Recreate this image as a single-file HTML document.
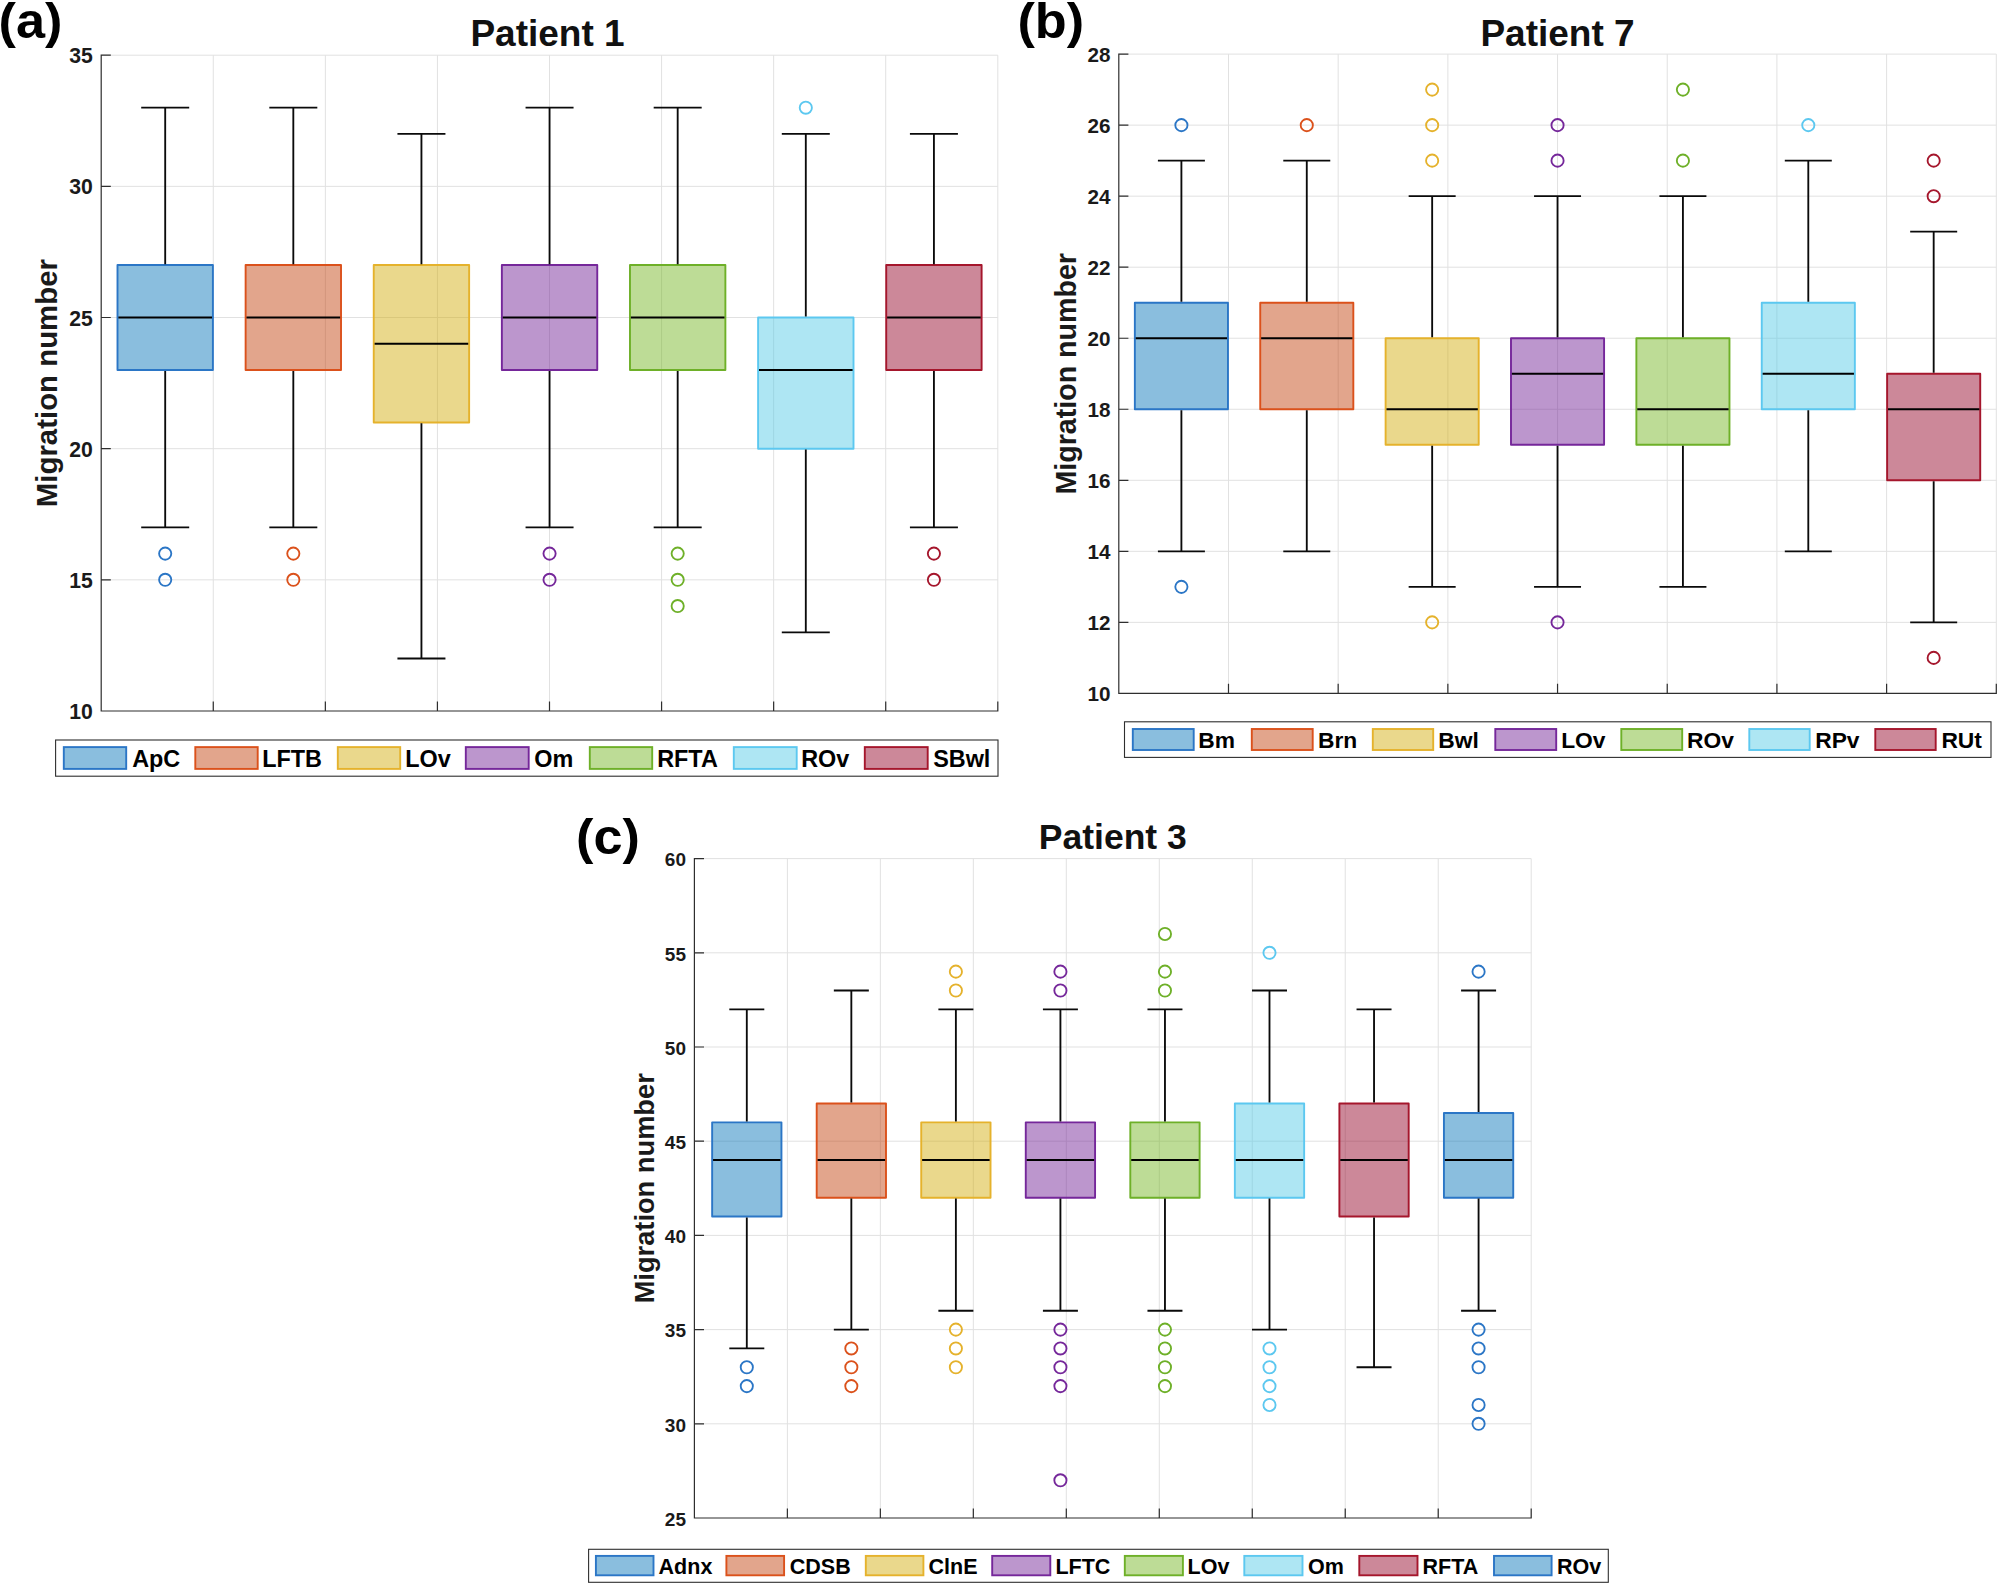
<!DOCTYPE html>
<html lang="en">
<head>
<meta charset="utf-8">
<title>Migration number boxplots</title>
<style>
html,body{margin:0;padding:0;background:#fff;}
body{width:2000px;height:1586px;overflow:hidden;}
svg{display:block;font-family:'Liberation Sans', Arial, Helvetica, sans-serif;font-weight:bold;}
</style>
</head>
<body>
<svg width="2000" height="1586" viewBox="0 0 2000 1586">
<rect width="2000" height="1586" fill="#ffffff"/>
<g id="panel-a">
<path d="M213.27 55.2V711M325.35 55.2V711M437.42 55.2V711M549.5 55.2V711M661.58 55.2V711M773.65 55.2V711M885.72 55.2V711M997.8 55.2V711M101.2 579.84H997.8M101.2 448.68H997.8M101.2 317.52H997.8M101.2 186.36H997.8M101.2 55.2H997.8" stroke="#e1e1e1" stroke-width="1" fill="none"/>
<rect x="117.5" y="265.06" width="95.4" height="104.93" fill="#0675b9" fill-opacity="0.47" stroke="#2b76c6" stroke-width="1.9" stroke-linejoin="round"/>
<path d="M165.2 107.66V264.16M165.2 370.88V527.38M141.2 107.66H189.2M141.2 527.38H189.2" stroke="#0a0a0a" stroke-width="1.85" fill="none"/>
<path d="M118.4 317.52H212" stroke="#000" stroke-width="2" fill="none"/>
<circle cx="165.2" cy="553.61" r="6.1" fill="none" stroke="#2b76c6" stroke-width="1.85"/>
<circle cx="165.2" cy="579.84" r="6.1" fill="none" stroke="#2b76c6" stroke-width="1.85"/>
<rect x="245.62" y="265.06" width="95.4" height="104.93" fill="#c1400a" fill-opacity="0.47" stroke="#db511b" stroke-width="1.9" stroke-linejoin="round"/>
<path d="M293.32 107.66V264.16M293.32 370.88V527.38M269.32 107.66H317.32M269.32 527.38H317.32" stroke="#0a0a0a" stroke-width="1.85" fill="none"/>
<path d="M246.52 317.52H340.12" stroke="#000" stroke-width="2" fill="none"/>
<circle cx="293.32" cy="553.61" r="6.1" fill="none" stroke="#db511b" stroke-width="1.85"/>
<circle cx="293.32" cy="579.84" r="6.1" fill="none" stroke="#db511b" stroke-width="1.85"/>
<rect x="373.74" y="265.06" width="95.4" height="157.39" fill="#d2ac0a" fill-opacity="0.47" stroke="#e5b22c" stroke-width="1.9" stroke-linejoin="round"/>
<path d="M421.44 133.9V264.16M421.44 423.35V658.54M397.44 133.9H445.44M397.44 658.54H445.44" stroke="#0a0a0a" stroke-width="1.85" fill="none"/>
<path d="M374.64 343.75H468.24" stroke="#000" stroke-width="2" fill="none"/>
<rect x="501.86" y="265.06" width="95.4" height="104.93" fill="#702095" fill-opacity="0.47" stroke="#75279a" stroke-width="1.9" stroke-linejoin="round"/>
<path d="M549.56 107.66V264.16M549.56 370.88V527.38M525.56 107.66H573.56M525.56 527.38H573.56" stroke="#0a0a0a" stroke-width="1.85" fill="none"/>
<path d="M502.76 317.52H596.36" stroke="#000" stroke-width="2" fill="none"/>
<circle cx="549.56" cy="553.61" r="6.1" fill="none" stroke="#75279a" stroke-width="1.85"/>
<circle cx="549.56" cy="579.84" r="6.1" fill="none" stroke="#75279a" stroke-width="1.85"/>
<rect x="629.98" y="265.06" width="95.4" height="104.93" fill="#73b520" fill-opacity="0.47" stroke="#6eb028" stroke-width="1.9" stroke-linejoin="round"/>
<path d="M677.68 107.66V264.16M677.68 370.88V527.38M653.68 107.66H701.68M653.68 527.38H701.68" stroke="#0a0a0a" stroke-width="1.85" fill="none"/>
<path d="M630.88 317.52H724.48" stroke="#000" stroke-width="2" fill="none"/>
<circle cx="677.68" cy="553.61" r="6.1" fill="none" stroke="#6eb028" stroke-width="1.85"/>
<circle cx="677.68" cy="579.84" r="6.1" fill="none" stroke="#6eb028" stroke-width="1.85"/>
<circle cx="677.68" cy="606.07" r="6.1" fill="none" stroke="#6eb028" stroke-width="1.85"/>
<rect x="758.1" y="317.52" width="95.4" height="131.16" fill="#53cae5" fill-opacity="0.47" stroke="#5cc8f0" stroke-width="1.9" stroke-linejoin="round"/>
<path d="M805.8 133.9V316.62M805.8 449.58V632.3M781.8 133.9H829.8M781.8 632.3H829.8" stroke="#0a0a0a" stroke-width="1.85" fill="none"/>
<path d="M759 369.98H852.6" stroke="#000" stroke-width="2" fill="none"/>
<circle cx="805.8" cy="107.66" r="6.1" fill="none" stroke="#5cc8f0" stroke-width="1.85"/>
<rect x="886.22" y="265.06" width="95.4" height="104.93" fill="#920226" fill-opacity="0.47" stroke="#a5162c" stroke-width="1.9" stroke-linejoin="round"/>
<path d="M933.92 133.9V264.16M933.92 370.88V527.38M909.92 133.9H957.92M909.92 527.38H957.92" stroke="#0a0a0a" stroke-width="1.85" fill="none"/>
<path d="M887.12 317.52H980.72" stroke="#000" stroke-width="2" fill="none"/>
<circle cx="933.92" cy="553.61" r="6.1" fill="none" stroke="#a5162c" stroke-width="1.85"/>
<circle cx="933.92" cy="579.84" r="6.1" fill="none" stroke="#a5162c" stroke-width="1.85"/>
<path d="M101.2 55.2V711H997.8M101.2 711h9M101.2 579.84h9M101.2 448.68h9M101.2 317.52h9M101.2 186.36h9M101.2 55.2h9M213.27 711v-9M325.35 711v-9M437.42 711v-9M549.5 711v-9M661.58 711v-9M773.65 711v-9M885.72 711v-9M997.8 711v-9" stroke="#2e2e2e" stroke-width="1.2" fill="none" stroke-linecap="square"/>
<g font-size="21.2" text-anchor="end" fill="#1a1a1a">
<text x="92.8" y="719.13">10</text>
<text x="92.8" y="587.97">15</text>
<text x="92.8" y="456.81">20</text>
<text x="92.8" y="325.65">25</text>
<text x="92.8" y="194.49">30</text>
<text x="92.8" y="63.33">35</text>
</g>
<text font-size="29.4" text-anchor="middle" fill="#1a1a1a" transform="translate(57.4 383.1) rotate(-90)">Migration number</text>
<text font-size="37" text-anchor="middle" fill="#111" x="547.5" y="46.2">Patient 1</text>
<text font-size="50" fill="#000" x="-1.5" y="38" textLength="63.85" lengthAdjust="spacingAndGlyphs">(a)</text>
<rect x="55.6" y="740" width="942.4" height="36.2" fill="#fff" stroke="#2e2e2e" stroke-width="1.1"/>
<rect x="63.8" y="747.1" width="62.4" height="21.8" fill="#0675b9" fill-opacity="0.47" stroke="#2b76c6" stroke-width="1.9"/>
<text font-size="23.4" fill="#000" x="132.2" y="766.6">ApC</text>
<rect x="195.3" y="747.1" width="62.4" height="21.8" fill="#c1400a" fill-opacity="0.47" stroke="#db511b" stroke-width="1.9"/>
<text font-size="23.4" fill="#000" x="262.2" y="766.6">LFTB</text>
<rect x="337.8" y="747.1" width="62.4" height="21.8" fill="#d2ac0a" fill-opacity="0.47" stroke="#e5b22c" stroke-width="1.9"/>
<text font-size="23.4" fill="#000" x="405.2" y="766.6">LOv</text>
<rect x="465.8" y="747.1" width="62.9" height="21.8" fill="#702095" fill-opacity="0.47" stroke="#75279a" stroke-width="1.9"/>
<text font-size="23.4" fill="#000" x="534.2" y="766.6">Om</text>
<rect x="589.8" y="747.1" width="62.4" height="21.8" fill="#73b520" fill-opacity="0.47" stroke="#6eb028" stroke-width="1.9"/>
<text font-size="23.4" fill="#000" x="657.2" y="766.6">RFTA</text>
<rect x="733.8" y="747.1" width="62.9" height="21.8" fill="#53cae5" fill-opacity="0.47" stroke="#5cc8f0" stroke-width="1.9"/>
<text font-size="23.4" fill="#000" x="801.2" y="766.6">ROv</text>
<rect x="864.8" y="747.1" width="62.9" height="21.8" fill="#920226" fill-opacity="0.47" stroke="#a5162c" stroke-width="1.9"/>
<text font-size="23.4" fill="#000" x="933.2" y="766.6">SBwl</text>
</g>
<g id="panel-b">
<path d="M1228.49 54.1V693.4M1338.17 54.1V693.4M1447.86 54.1V693.4M1557.55 54.1V693.4M1667.24 54.1V693.4M1776.92 54.1V693.4M1886.61 54.1V693.4M1996.3 54.1V693.4M1118.8 622.37H1996.3M1118.8 551.33H1996.3M1118.8 480.3H1996.3M1118.8 409.27H1996.3M1118.8 338.23H1996.3M1118.8 267.2H1996.3M1118.8 196.17H1996.3M1118.8 125.13H1996.3M1118.8 54.1H1996.3" stroke="#e1e1e1" stroke-width="1" fill="none"/>
<rect x="1134.85" y="302.72" width="93.1" height="106.55" fill="#0675b9" fill-opacity="0.47" stroke="#2b76c6" stroke-width="1.9" stroke-linejoin="round"/>
<path d="M1181.4 160.65V301.82M1181.4 410.17V551.33M1157.9 160.65H1204.9M1157.9 551.33H1204.9" stroke="#0a0a0a" stroke-width="1.85" fill="none"/>
<path d="M1135.75 338.23H1227.05" stroke="#000" stroke-width="2" fill="none"/>
<circle cx="1181.4" cy="125.13" r="6.1" fill="none" stroke="#2b76c6" stroke-width="1.85"/>
<circle cx="1181.4" cy="586.85" r="6.1" fill="none" stroke="#2b76c6" stroke-width="1.85"/>
<rect x="1260.23" y="302.72" width="93.1" height="106.55" fill="#c1400a" fill-opacity="0.47" stroke="#db511b" stroke-width="1.9" stroke-linejoin="round"/>
<path d="M1306.78 160.65V301.82M1306.78 410.17V551.33M1283.28 160.65H1330.28M1283.28 551.33H1330.28" stroke="#0a0a0a" stroke-width="1.85" fill="none"/>
<path d="M1261.13 338.23H1352.43" stroke="#000" stroke-width="2" fill="none"/>
<circle cx="1306.78" cy="125.13" r="6.1" fill="none" stroke="#db511b" stroke-width="1.85"/>
<rect x="1385.61" y="338.23" width="93.1" height="106.55" fill="#d2ac0a" fill-opacity="0.47" stroke="#e5b22c" stroke-width="1.9" stroke-linejoin="round"/>
<path d="M1432.16 196.17V337.33M1432.16 445.68V586.85M1408.66 196.17H1455.66M1408.66 586.85H1455.66" stroke="#0a0a0a" stroke-width="1.85" fill="none"/>
<path d="M1386.51 409.27H1477.81" stroke="#000" stroke-width="2" fill="none"/>
<circle cx="1432.16" cy="160.65" r="6.1" fill="none" stroke="#e5b22c" stroke-width="1.85"/>
<circle cx="1432.16" cy="125.13" r="6.1" fill="none" stroke="#e5b22c" stroke-width="1.85"/>
<circle cx="1432.16" cy="89.62" r="6.1" fill="none" stroke="#e5b22c" stroke-width="1.85"/>
<circle cx="1432.16" cy="622.37" r="6.1" fill="none" stroke="#e5b22c" stroke-width="1.85"/>
<rect x="1510.99" y="338.23" width="93.1" height="106.55" fill="#702095" fill-opacity="0.47" stroke="#75279a" stroke-width="1.9" stroke-linejoin="round"/>
<path d="M1557.54 196.17V337.33M1557.54 445.68V586.85M1534.04 196.17H1581.04M1534.04 586.85H1581.04" stroke="#0a0a0a" stroke-width="1.85" fill="none"/>
<path d="M1511.89 373.75H1603.19" stroke="#000" stroke-width="2" fill="none"/>
<circle cx="1557.54" cy="160.65" r="6.1" fill="none" stroke="#75279a" stroke-width="1.85"/>
<circle cx="1557.54" cy="125.13" r="6.1" fill="none" stroke="#75279a" stroke-width="1.85"/>
<circle cx="1557.54" cy="622.37" r="6.1" fill="none" stroke="#75279a" stroke-width="1.85"/>
<rect x="1636.37" y="338.23" width="93.1" height="106.55" fill="#73b520" fill-opacity="0.47" stroke="#6eb028" stroke-width="1.9" stroke-linejoin="round"/>
<path d="M1682.92 196.17V337.33M1682.92 445.68V586.85M1659.42 196.17H1706.42M1659.42 586.85H1706.42" stroke="#0a0a0a" stroke-width="1.85" fill="none"/>
<path d="M1637.27 409.27H1728.57" stroke="#000" stroke-width="2" fill="none"/>
<circle cx="1682.92" cy="160.65" r="6.1" fill="none" stroke="#6eb028" stroke-width="1.85"/>
<circle cx="1682.92" cy="89.62" r="6.1" fill="none" stroke="#6eb028" stroke-width="1.85"/>
<rect x="1761.75" y="302.72" width="93.1" height="106.55" fill="#53cae5" fill-opacity="0.47" stroke="#5cc8f0" stroke-width="1.9" stroke-linejoin="round"/>
<path d="M1808.3 160.65V301.82M1808.3 410.17V551.33M1784.8 160.65H1831.8M1784.8 551.33H1831.8" stroke="#0a0a0a" stroke-width="1.85" fill="none"/>
<path d="M1762.65 373.75H1853.95" stroke="#000" stroke-width="2" fill="none"/>
<circle cx="1808.3" cy="125.13" r="6.1" fill="none" stroke="#5cc8f0" stroke-width="1.85"/>
<rect x="1887.13" y="373.75" width="93.1" height="106.55" fill="#920226" fill-opacity="0.47" stroke="#a5162c" stroke-width="1.9" stroke-linejoin="round"/>
<path d="M1933.68 231.68V372.85M1933.68 481.2V622.37M1910.18 231.68H1957.18M1910.18 622.37H1957.18" stroke="#0a0a0a" stroke-width="1.85" fill="none"/>
<path d="M1888.03 409.27H1979.33" stroke="#000" stroke-width="2" fill="none"/>
<circle cx="1933.68" cy="196.17" r="6.1" fill="none" stroke="#a5162c" stroke-width="1.85"/>
<circle cx="1933.68" cy="160.65" r="6.1" fill="none" stroke="#a5162c" stroke-width="1.85"/>
<circle cx="1933.68" cy="657.88" r="6.1" fill="none" stroke="#a5162c" stroke-width="1.85"/>
<path d="M1118.8 54.1V693.4H1996.3M1118.8 693.4h9M1118.8 622.37h9M1118.8 551.33h9M1118.8 480.3h9M1118.8 409.27h9M1118.8 338.23h9M1118.8 267.2h9M1118.8 196.17h9M1118.8 125.13h9M1118.8 54.1h9M1228.49 693.4v-9M1338.17 693.4v-9M1447.86 693.4v-9M1557.55 693.4v-9M1667.24 693.4v-9M1776.92 693.4v-9M1886.61 693.4v-9M1996.3 693.4v-9" stroke="#2e2e2e" stroke-width="1.2" fill="none" stroke-linecap="square"/>
<g font-size="20.7" text-anchor="end" fill="#1a1a1a">
<text x="1110.5" y="701.15">10</text>
<text x="1110.5" y="630.12">12</text>
<text x="1110.5" y="559.09">14</text>
<text x="1110.5" y="488.05">16</text>
<text x="1110.5" y="417.02">18</text>
<text x="1110.5" y="345.99">20</text>
<text x="1110.5" y="274.95">22</text>
<text x="1110.5" y="203.92">24</text>
<text x="1110.5" y="132.89">26</text>
<text x="1110.5" y="61.85">28</text>
</g>
<text font-size="28.6" text-anchor="middle" fill="#1a1a1a" transform="translate(1075.9 373.75) rotate(-90)">Migration number</text>
<text font-size="37" text-anchor="middle" fill="#111" x="1557.55" y="45.7">Patient 7</text>
<text font-size="50" fill="#000" x="1017.4" y="38.3" textLength="66.7" lengthAdjust="spacingAndGlyphs">(b)</text>
<rect x="1124.5" y="721.8" width="866.5" height="35.6" fill="#fff" stroke="#2e2e2e" stroke-width="1.1"/>
<rect x="1132.8" y="729" width="60.9" height="21" fill="#0675b9" fill-opacity="0.47" stroke="#2b76c6" stroke-width="1.9"/>
<text font-size="22.8" fill="#000" x="1198.2" y="748">Bm</text>
<rect x="1251.8" y="729" width="60.9" height="21" fill="#c1400a" fill-opacity="0.47" stroke="#db511b" stroke-width="1.9"/>
<text font-size="22.8" fill="#000" x="1318" y="748">Brn</text>
<rect x="1372.8" y="729" width="60.4" height="21" fill="#d2ac0a" fill-opacity="0.47" stroke="#e5b22c" stroke-width="1.9"/>
<text font-size="22.8" fill="#000" x="1438.2" y="748">Bwl</text>
<rect x="1495.3" y="729" width="60.9" height="21" fill="#702095" fill-opacity="0.47" stroke="#75279a" stroke-width="1.9"/>
<text font-size="22.8" fill="#000" x="1561.2" y="748">LOv</text>
<rect x="1621.3" y="729" width="60.9" height="21" fill="#73b520" fill-opacity="0.47" stroke="#6eb028" stroke-width="1.9"/>
<text font-size="22.8" fill="#000" x="1687" y="748">ROv</text>
<rect x="1749.3" y="729" width="60.4" height="21" fill="#53cae5" fill-opacity="0.47" stroke="#5cc8f0" stroke-width="1.9"/>
<text font-size="22.8" fill="#000" x="1815.2" y="748">RPv</text>
<rect x="1875.3" y="729" width="60.4" height="21" fill="#920226" fill-opacity="0.47" stroke="#a5162c" stroke-width="1.9"/>
<text font-size="22.8" fill="#000" x="1941.4" y="748">RUt</text>
</g>
<g id="panel-c">
<path d="M787.38 858.6V1518M880.36 858.6V1518M973.33 858.6V1518M1066.31 858.6V1518M1159.29 858.6V1518M1252.27 858.6V1518M1345.24 858.6V1518M1438.22 858.6V1518M1531.2 858.6V1518M694.4 1423.8H1531.2M694.4 1329.6H1531.2M694.4 1235.4H1531.2M694.4 1141.2H1531.2M694.4 1047H1531.2M694.4 952.8H1531.2M694.4 858.6H1531.2" stroke="#e1e1e1" stroke-width="1" fill="none"/>
<rect x="712.15" y="1122.36" width="69.3" height="94.2" fill="#0675b9" fill-opacity="0.47" stroke="#2b76c6" stroke-width="1.9" stroke-linejoin="round"/>
<path d="M746.8 1009.32V1121.46M746.8 1217.46V1348.44M729.3 1009.32H764.3M729.3 1348.44H764.3" stroke="#0a0a0a" stroke-width="1.85" fill="none"/>
<path d="M713.05 1160.04H780.55" stroke="#000" stroke-width="2" fill="none"/>
<circle cx="746.8" cy="1367.28" r="6.1" fill="none" stroke="#2b76c6" stroke-width="1.85"/>
<circle cx="746.8" cy="1386.12" r="6.1" fill="none" stroke="#2b76c6" stroke-width="1.85"/>
<rect x="816.69" y="1103.52" width="69.3" height="94.2" fill="#c1400a" fill-opacity="0.47" stroke="#db511b" stroke-width="1.9" stroke-linejoin="round"/>
<path d="M851.34 990.48V1102.62M851.34 1198.62V1329.6M833.84 990.48H868.84M833.84 1329.6H868.84" stroke="#0a0a0a" stroke-width="1.85" fill="none"/>
<path d="M817.59 1160.04H885.09" stroke="#000" stroke-width="2" fill="none"/>
<circle cx="851.34" cy="1348.44" r="6.1" fill="none" stroke="#db511b" stroke-width="1.85"/>
<circle cx="851.34" cy="1367.28" r="6.1" fill="none" stroke="#db511b" stroke-width="1.85"/>
<circle cx="851.34" cy="1386.12" r="6.1" fill="none" stroke="#db511b" stroke-width="1.85"/>
<rect x="921.23" y="1122.36" width="69.3" height="75.36" fill="#d2ac0a" fill-opacity="0.47" stroke="#e5b22c" stroke-width="1.9" stroke-linejoin="round"/>
<path d="M955.88 1009.32V1121.46M955.88 1198.62V1310.76M938.38 1009.32H973.38M938.38 1310.76H973.38" stroke="#0a0a0a" stroke-width="1.85" fill="none"/>
<path d="M922.13 1160.04H989.63" stroke="#000" stroke-width="2" fill="none"/>
<circle cx="955.88" cy="990.48" r="6.1" fill="none" stroke="#e5b22c" stroke-width="1.85"/>
<circle cx="955.88" cy="971.64" r="6.1" fill="none" stroke="#e5b22c" stroke-width="1.85"/>
<circle cx="955.88" cy="1329.6" r="6.1" fill="none" stroke="#e5b22c" stroke-width="1.85"/>
<circle cx="955.88" cy="1348.44" r="6.1" fill="none" stroke="#e5b22c" stroke-width="1.85"/>
<circle cx="955.88" cy="1367.28" r="6.1" fill="none" stroke="#e5b22c" stroke-width="1.85"/>
<rect x="1025.77" y="1122.36" width="69.3" height="75.36" fill="#702095" fill-opacity="0.47" stroke="#75279a" stroke-width="1.9" stroke-linejoin="round"/>
<path d="M1060.42 1009.32V1121.46M1060.42 1198.62V1310.76M1042.92 1009.32H1077.92M1042.92 1310.76H1077.92" stroke="#0a0a0a" stroke-width="1.85" fill="none"/>
<path d="M1026.67 1160.04H1094.17" stroke="#000" stroke-width="2" fill="none"/>
<circle cx="1060.42" cy="990.48" r="6.1" fill="none" stroke="#75279a" stroke-width="1.85"/>
<circle cx="1060.42" cy="971.64" r="6.1" fill="none" stroke="#75279a" stroke-width="1.85"/>
<circle cx="1060.42" cy="1329.6" r="6.1" fill="none" stroke="#75279a" stroke-width="1.85"/>
<circle cx="1060.42" cy="1348.44" r="6.1" fill="none" stroke="#75279a" stroke-width="1.85"/>
<circle cx="1060.42" cy="1367.28" r="6.1" fill="none" stroke="#75279a" stroke-width="1.85"/>
<circle cx="1060.42" cy="1386.12" r="6.1" fill="none" stroke="#75279a" stroke-width="1.85"/>
<circle cx="1060.42" cy="1480.32" r="6.1" fill="none" stroke="#75279a" stroke-width="1.85"/>
<rect x="1130.31" y="1122.36" width="69.3" height="75.36" fill="#73b520" fill-opacity="0.47" stroke="#6eb028" stroke-width="1.9" stroke-linejoin="round"/>
<path d="M1164.96 1009.32V1121.46M1164.96 1198.62V1310.76M1147.46 1009.32H1182.46M1147.46 1310.76H1182.46" stroke="#0a0a0a" stroke-width="1.85" fill="none"/>
<path d="M1131.21 1160.04H1198.71" stroke="#000" stroke-width="2" fill="none"/>
<circle cx="1164.96" cy="990.48" r="6.1" fill="none" stroke="#6eb028" stroke-width="1.85"/>
<circle cx="1164.96" cy="971.64" r="6.1" fill="none" stroke="#6eb028" stroke-width="1.85"/>
<circle cx="1164.96" cy="933.96" r="6.1" fill="none" stroke="#6eb028" stroke-width="1.85"/>
<circle cx="1164.96" cy="1329.6" r="6.1" fill="none" stroke="#6eb028" stroke-width="1.85"/>
<circle cx="1164.96" cy="1348.44" r="6.1" fill="none" stroke="#6eb028" stroke-width="1.85"/>
<circle cx="1164.96" cy="1367.28" r="6.1" fill="none" stroke="#6eb028" stroke-width="1.85"/>
<circle cx="1164.96" cy="1386.12" r="6.1" fill="none" stroke="#6eb028" stroke-width="1.85"/>
<rect x="1234.85" y="1103.52" width="69.3" height="94.2" fill="#53cae5" fill-opacity="0.47" stroke="#5cc8f0" stroke-width="1.9" stroke-linejoin="round"/>
<path d="M1269.5 990.48V1102.62M1269.5 1198.62V1329.6M1252 990.48H1287M1252 1329.6H1287" stroke="#0a0a0a" stroke-width="1.85" fill="none"/>
<path d="M1235.75 1160.04H1303.25" stroke="#000" stroke-width="2" fill="none"/>
<circle cx="1269.5" cy="952.8" r="6.1" fill="none" stroke="#5cc8f0" stroke-width="1.85"/>
<circle cx="1269.5" cy="1348.44" r="6.1" fill="none" stroke="#5cc8f0" stroke-width="1.85"/>
<circle cx="1269.5" cy="1367.28" r="6.1" fill="none" stroke="#5cc8f0" stroke-width="1.85"/>
<circle cx="1269.5" cy="1386.12" r="6.1" fill="none" stroke="#5cc8f0" stroke-width="1.85"/>
<circle cx="1269.5" cy="1404.96" r="6.1" fill="none" stroke="#5cc8f0" stroke-width="1.85"/>
<rect x="1339.39" y="1103.52" width="69.3" height="113.04" fill="#920226" fill-opacity="0.47" stroke="#a5162c" stroke-width="1.9" stroke-linejoin="round"/>
<path d="M1374.04 1009.32V1102.62M1374.04 1217.46V1367.28M1356.54 1009.32H1391.54M1356.54 1367.28H1391.54" stroke="#0a0a0a" stroke-width="1.85" fill="none"/>
<path d="M1340.29 1160.04H1407.79" stroke="#000" stroke-width="2" fill="none"/>
<rect x="1443.93" y="1112.94" width="69.3" height="84.78" fill="#0675b9" fill-opacity="0.47" stroke="#2b76c6" stroke-width="1.9" stroke-linejoin="round"/>
<path d="M1478.58 990.48V1112.04M1478.58 1198.62V1310.76M1461.08 990.48H1496.08M1461.08 1310.76H1496.08" stroke="#0a0a0a" stroke-width="1.85" fill="none"/>
<path d="M1444.83 1160.04H1512.33" stroke="#000" stroke-width="2" fill="none"/>
<circle cx="1478.58" cy="971.64" r="6.1" fill="none" stroke="#2b76c6" stroke-width="1.85"/>
<circle cx="1478.58" cy="1329.6" r="6.1" fill="none" stroke="#2b76c6" stroke-width="1.85"/>
<circle cx="1478.58" cy="1348.44" r="6.1" fill="none" stroke="#2b76c6" stroke-width="1.85"/>
<circle cx="1478.58" cy="1367.28" r="6.1" fill="none" stroke="#2b76c6" stroke-width="1.85"/>
<circle cx="1478.58" cy="1404.96" r="6.1" fill="none" stroke="#2b76c6" stroke-width="1.85"/>
<circle cx="1478.58" cy="1423.8" r="6.1" fill="none" stroke="#2b76c6" stroke-width="1.85"/>
<path d="M694.4 858.6V1518H1531.2M694.4 1518h9M694.4 1423.8h9M694.4 1329.6h9M694.4 1235.4h9M694.4 1141.2h9M694.4 1047h9M694.4 952.8h9M694.4 858.6h9M787.38 1518v-9M880.36 1518v-9M973.33 1518v-9M1066.31 1518v-9M1159.29 1518v-9M1252.27 1518v-9M1345.24 1518v-9M1438.22 1518v-9M1531.2 1518v-9" stroke="#2e2e2e" stroke-width="1.2" fill="none" stroke-linecap="square"/>
<g font-size="19.0" text-anchor="end" fill="#1a1a1a">
<text x="686" y="1525.74">25</text>
<text x="686" y="1431.54">30</text>
<text x="686" y="1337.34">35</text>
<text x="686" y="1243.14">40</text>
<text x="686" y="1148.94">45</text>
<text x="686" y="1054.74">50</text>
<text x="686" y="960.54">55</text>
<text x="686" y="866.34">60</text>
</g>
<text font-size="27.25" text-anchor="middle" fill="#1a1a1a" transform="translate(653.9 1188.3) rotate(-90)">Migration number</text>
<text font-size="35.5" text-anchor="middle" fill="#111" x="1112.8" y="849.4">Patient 3</text>
<text font-size="50" fill="#000" x="576" y="854" textLength="63.85" lengthAdjust="spacingAndGlyphs">(c)</text>
<rect x="588.6" y="1549.3" width="1019.7" height="33" fill="#fff" stroke="#2e2e2e" stroke-width="1.1"/>
<rect x="595.9" y="1555.9" width="57.6" height="19.4" fill="#0675b9" fill-opacity="0.47" stroke="#2b76c6" stroke-width="1.9"/>
<text font-size="21.5" fill="#000" x="658.6" y="1573.9">Adnx</text>
<rect x="726.4" y="1555.9" width="57.7" height="19.4" fill="#c1400a" fill-opacity="0.47" stroke="#db511b" stroke-width="1.9"/>
<text font-size="21.5" fill="#000" x="789.8" y="1573.9">CDSB</text>
<rect x="865.8" y="1555.9" width="57.6" height="19.4" fill="#d2ac0a" fill-opacity="0.47" stroke="#e5b22c" stroke-width="1.9"/>
<text font-size="21.5" fill="#000" x="928.6" y="1573.9">ClnE</text>
<rect x="992.2" y="1555.9" width="58.1" height="19.4" fill="#702095" fill-opacity="0.47" stroke="#75279a" stroke-width="1.9"/>
<text font-size="21.5" fill="#000" x="1055.4" y="1573.9">LFTC</text>
<rect x="1124.8" y="1555.9" width="58.1" height="19.4" fill="#73b520" fill-opacity="0.47" stroke="#6eb028" stroke-width="1.9"/>
<text font-size="21.5" fill="#000" x="1187.6" y="1573.9">LOv</text>
<rect x="1244.3" y="1555.9" width="58.2" height="19.4" fill="#53cae5" fill-opacity="0.47" stroke="#5cc8f0" stroke-width="1.9"/>
<text font-size="21.5" fill="#000" x="1308" y="1573.9">Om</text>
<rect x="1359.3" y="1555.9" width="58.2" height="19.4" fill="#920226" fill-opacity="0.47" stroke="#a5162c" stroke-width="1.9"/>
<text font-size="21.5" fill="#000" x="1422.6" y="1573.9">RFTA</text>
<rect x="1494" y="1555.9" width="57.6" height="19.4" fill="#0675b9" fill-opacity="0.47" stroke="#2b76c6" stroke-width="1.9"/>
<text font-size="21.5" fill="#000" x="1557" y="1573.9">ROv</text>
</g>
</svg>
</body>
</html>
